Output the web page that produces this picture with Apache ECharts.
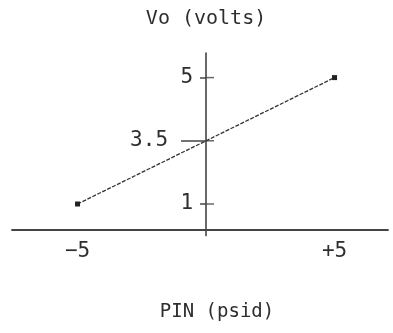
<!DOCTYPE html>
<html>
<head>
<meta charset="utf-8">
<script src="https://cdn.jsdelivr.net/npm/echarts@6/dist/echarts.min.js"></script>
<style>html,body{margin:0;padding:0;background:#fff}#c{width:393px;height:333px}</style>
</head>
<body>
<div id="c"></div>
<script>
// Data read from the schematic
const pinValues = [-5, 0, 5];          // PIN (psid)
const voValues = ['1', '3.5', '5'];     // Vo (volts), schematic (non-linear) scale
const yTickLabels = ['1', '3.5', '5'];
const xTickValues = [-5, 5];
const xTickLabels = ['\u22125', '+5'];
const yTitle = 'Vo (volts)';
const xTitle = 'PIN (psid)';

const FONT = 'DejaVu Sans Mono';
const INK = '#2e2e2e';
const AXIS = '#444';

const X_MIN = -7.55, X_MAX = 7.08;
const GRID_LEFT = 12, GRID_RIGHT = 5, GRID_BOTTOM = 97.4;
const plotW = 393 - GRID_LEFT - GRID_RIGHT;
// place the vertical axis where PIN = 0 falls on the horizontal scale
const zeroPos = (0 - X_MIN) / (X_MAX - X_MIN) * plotW;
const yAxisOffset = -zeroPos;

const seriesData = pinValues.map((x, i) => {
  const item = { value: [x, voValues[i]] };
  if (i !== 0 && i !== pinValues.length - 1) item.symbol = 'none';
  return item;
});
// right-hand halves of the crossing ticks, placed on the vertical axis (PIN = 0)
const rightTickData = yTickLabels.map(t => [0, t]);

function yAxisBase() {
  return {
    type: 'category',
    gridIndex: 0,
    position: 'left',
    offset: yAxisOffset,
    data: yTickLabels,
    boundaryGap: true,
    axisLine: { show: false, onZero: false },
    splitLine: { show: false }
  };
}
const tickStyle = { color: AXIS, width: 1.5, opacity: 1 };

const chart = echarts.init(document.getElementById('c'), null, { renderer: 'canvas' });
chart.setOption({
  animation: false,
  backgroundColor: '#fff',
  grid: [
    { left: GRID_LEFT, right: GRID_RIGHT, top: 46, bottom: GRID_BOTTOM, containLabel: false, outerBoundsMode: 'none' },
    { left: GRID_LEFT, right: GRID_RIGHT, top: 53, bottom: GRID_BOTTOM, containLabel: false, outerBoundsMode: 'none' }
  ],
  xAxis: [{
    type: 'value',
    gridIndex: 0,
    min: X_MIN,
    max: X_MAX,
    offset: -5.6,
    axisLine: { show: true, onZero: false, lineStyle: { color: AXIS, width: 1.8 } },
    axisTick: { show: false },
    splitLine: { show: false },
    axisLabel: {
      customValues: xTickValues,
      formatter: v => xTickLabels[xTickValues.indexOf(v)] || '',
      margin: 11,
      fontFamily: FONT, fontSize: 21, color: INK
    },
    name: xTitle,
    nameLocation: 'middle',
    nameGap: 73,
    nameTextStyle: { fontFamily: FONT, fontSize: 19, color: INK, padding: [0, 0, 0, 34] }
  }, {
    type: 'value',
    gridIndex: 1,
    min: X_MIN,
    max: X_MAX,
    show: false
  }],
  yAxis: [
    Object.assign(yAxisBase(), {
      axisTick: { show: true, alignWithLabel: true, length: 6, lineStyle: tickStyle },
      axisLabel: {
        show: true,
        margin: 13, fontFamily: FONT, fontSize: 21, color: INK,
        formatter: v => v === '3.5' ? '{m|' + v + '}' : v,
        rich: { m: { fontFamily: FONT, fontSize: 21, color: INK, padding: [0, 25, 0, 0] } }
      },
      name: yTitle,
      nameLocation: 'end',
      nameGap: 17,
      nameTextStyle: { fontFamily: FONT, fontSize: 20, color: INK }
    }),
    Object.assign(yAxisBase(), {
      axisTick: { show: true, alignWithLabel: true, length: 25, interval: (i, v) => v === '3.5', lineStyle: tickStyle },
      axisLabel: { show: false }
    }),
    {
      // vertical axis line
      type: 'value',
      gridIndex: 1,
      position: 'left',
      offset: yAxisOffset,
      axisLine: { show: true, onZero: false, lineStyle: { color: AXIS, width: 1.6 } },
      axisTick: { show: false },
      axisLabel: { show: false },
      splitLine: { show: false }
    }
  ],
  series: [{
    type: 'line',
    xAxisIndex: 0,
    yAxisIndex: 0,
    data: seriesData,
    symbol: 'rect',
    symbolSize: 5,
    itemStyle: { color: '#222' },
    lineStyle: { color: '#333', width: 1.3, type: [4, 1.5] },
    silent: true,
    z: 3
  }, {
    type: 'scatter',
    xAxisIndex: 0,
    yAxisIndex: 0,
    data: rightTickData,
    symbol: 'rect',
    symbolSize: [8, 1.5],
    symbolOffset: [4, 0],
    itemStyle: { color: AXIS },
    silent: true,
    z: 2
  }]
});
</script>
</body>
</html>
